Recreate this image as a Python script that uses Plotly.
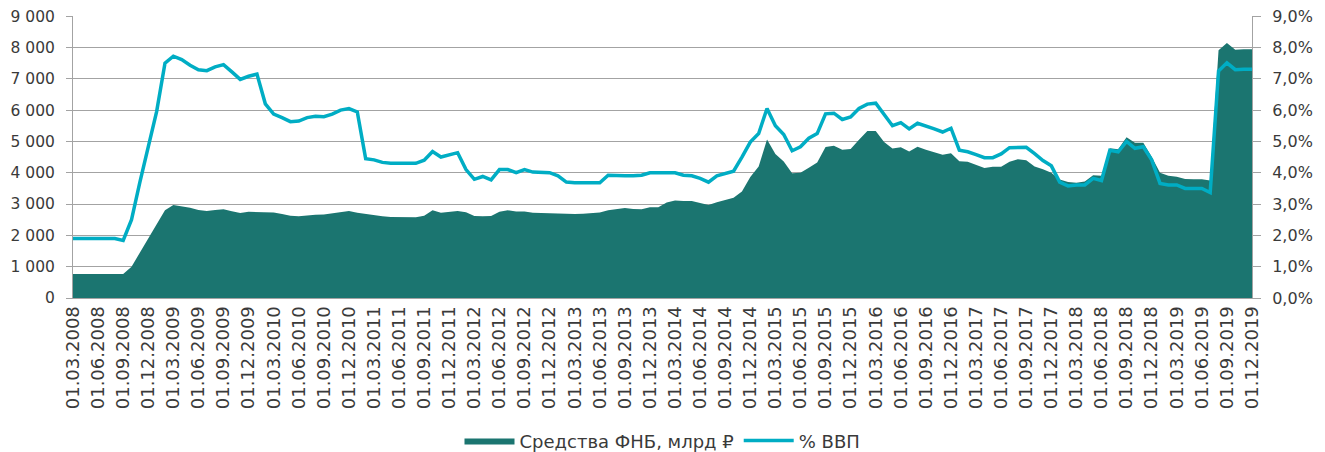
import plotly.graph_objects as go

# Monthly dates 01.03.2008 ... 01.12.2019
dates = []
y, m = 2008, 3
while (y, m) <= (2019, 12):
    dates.append(f"01.{m:02d}.{y}")
    m += 1
    if m > 12:
        m = 1
        y += 1

# Средства ФНБ, млрд ₽
nwf_bn = [
    765, 765, 762, 760, 758, 758, 770, 1000, 1450, 1900,
    2350, 2800, 2970, 2930, 2880, 2810, 2780, 2810, 2830, 2770,
    2710, 2750, 2740, 2745, 2730, 2680, 2630, 2610, 2640, 2660,
    2670, 2700, 2750, 2780, 2720, 2680, 2640, 2610, 2590, 2590,
    2580, 2580, 2630, 2800, 2720, 2750, 2780, 2740, 2620, 2610,
    2620, 2750, 2800, 2760, 2760, 2720, 2710, 2700, 2690, 2685,
    2680, 2690, 2700, 2730, 2800, 2840, 2870, 2840, 2830, 2900,
    2900, 3050, 3110, 3100, 3100, 3030, 2970, 3060, 3120, 3200,
    3400, 3860, 4200, 5060, 4600, 4360, 3980, 4000, 4160, 4330,
    4820, 4860, 4730, 4760, 5050, 5330, 5330, 4980, 4770, 4810,
    4680, 4830, 4730, 4650, 4570, 4620, 4370, 4350, 4260, 4150,
    4190, 4190, 4350, 4430, 4400, 4200, 4110, 4000, 3780, 3700,
    3680, 3720, 3920, 3900, 4780, 4750, 5130, 4960, 4960, 4510,
    4000, 3900, 3870, 3800, 3790, 3790, 3750, 7910, 8140, 7930,
    7940, 7940,
]

# % ВВП
gdp_pct = [
    1.90, 1.90, 1.90, 1.90, 1.90, 1.90, 1.84, 2.50, 3.70, 4.80,
    5.95, 7.50, 7.72, 7.61, 7.43, 7.29, 7.26, 7.38, 7.45, 7.22,
    6.98, 7.08, 7.15, 6.20, 5.87, 5.76, 5.63, 5.65, 5.76, 5.80,
    5.79, 5.87, 6.00, 6.05, 5.94, 4.45, 4.41, 4.33, 4.30, 4.30,
    4.30, 4.30, 4.40, 4.68, 4.50, 4.58, 4.64, 4.10, 3.79, 3.88,
    3.77, 4.10, 4.10, 4.00, 4.10, 4.02, 4.00, 4.00, 3.90, 3.70,
    3.68, 3.68, 3.68, 3.68, 3.92, 3.90, 3.90, 3.90, 3.92, 4.00,
    4.00, 4.00, 4.00, 3.92, 3.90, 3.82, 3.70, 3.90, 3.97, 4.05,
    4.50, 4.98, 5.25, 6.05, 5.50, 5.22, 4.70, 4.83, 5.10, 5.25,
    5.88, 5.90, 5.70, 5.78, 6.05, 6.19, 6.22, 5.88, 5.50, 5.60,
    5.40, 5.58, 5.50, 5.40, 5.30, 5.42, 4.72, 4.67, 4.58, 4.48,
    4.48, 4.60, 4.80, 4.81, 4.81, 4.61, 4.39, 4.22, 3.70, 3.58,
    3.61, 3.61, 3.82, 3.75, 4.72, 4.67, 5.00, 4.78, 4.83, 4.41,
    3.66, 3.61, 3.61, 3.50, 3.50, 3.50, 3.37, 7.25, 7.51, 7.29,
    7.30, 7.30,
]

assert len(dates) == len(nwf_bn) == len(gdp_pct) == 142

left_ticks = [0, 1000, 2000, 3000, 4000, 5000, 6000, 7000, 8000, 9000]
left_tick_text = ["0", "1 000", "2 000", "3 000", "4 000", "5 000",
                  "6 000", "7 000", "8 000", "9 000"]
right_ticks = [0, 1, 2, 3, 4, 5, 6, 7, 8, 9]
right_tick_text = ["0,0%", "1,0%", "2,0%", "3,0%", "4,0%", "5,0%",
                   "6,0%", "7,0%", "8,0%", "9,0%"]

idx = list(range(len(dates)))
tick_idx = idx[::3]
tick_txt = dates[::3]

AREA = "#1b7570"
LINE = "#00adc4"
GRID = "#a3a3a3"
TXT = "#3a3a3a"
FONT = "DejaVu Sans, Noto Sans, sans-serif"

fig = go.Figure()
fig.add_trace(go.Scatter(
    x=idx, y=nwf_bn, name="Средства ФНБ, млрд ₽",
    mode="lines", line=dict(width=0, color=AREA),
    fill="tozeroy", fillcolor=AREA, yaxis="y",
    hoverinfo="skip",
))
fig.add_trace(go.Scatter(
    x=idx, y=gdp_pct, name="% ВВП",
    mode="lines", line=dict(width=3.5, color=LINE),
    yaxis="y2", hoverinfo="skip",
))

# the page body has an 8px margin, so the figure is sized/offset to fit
fig.update_layout(
    width=1317, height=444,
    margin=dict(l=65, r=73, t=8, b=154, autoexpand=False),
    paper_bgcolor="white", plot_bgcolor="white",
    font=dict(family=FONT, color=TXT, size=16),
    showlegend=True,
    legend=dict(
        orientation="h", x=0.5, xanchor="center",
        yref="paper", y=-0.441, yanchor="top",
        font=dict(size=18, color=TXT, family=FONT),
        itemwidth=50, traceorder="normal",
        bgcolor="rgba(0,0,0,0)",
    ),
    xaxis=dict(
        range=[0, 141], tickmode="array", tickvals=tick_idx, ticktext=tick_txt,
        tickangle=-90, tickfont=dict(size=18, color=TXT),
        showgrid=False, zeroline=False, automargin=False,
        showline=True, linecolor=GRID, linewidth=1,
        ticks="", ticklabeloverflow="allow",
    ),
    yaxis=dict(
        range=[0, 9004], tickmode="array", tickvals=left_ticks,
        ticktext=left_tick_text, tickfont=dict(size=15.5, color=TXT),
        showgrid=True, gridcolor=GRID, gridwidth=1, automargin=False,
        zeroline=False, showline=True, linecolor=GRID, linewidth=1,
        ticks="outside", ticklen=6, tickcolor=GRID,
        ticklabelstandoff=8, ticklabeloverflow="allow",
    ),
    yaxis2=dict(
        range=[0, 9.004], tickmode="array", tickvals=right_ticks,
        ticktext=right_tick_text, tickfont=dict(size=16, color=TXT),
        overlaying="y", side="right", automargin=False,
        showgrid=False, zeroline=False,
        showline=True, linecolor=GRID, linewidth=1,
        ticks="outside", ticklen=8, tickcolor=GRID,
        ticklabelstandoff=8, ticklabeloverflow="allow",
    ),
)

fig.write_html("out.html")
